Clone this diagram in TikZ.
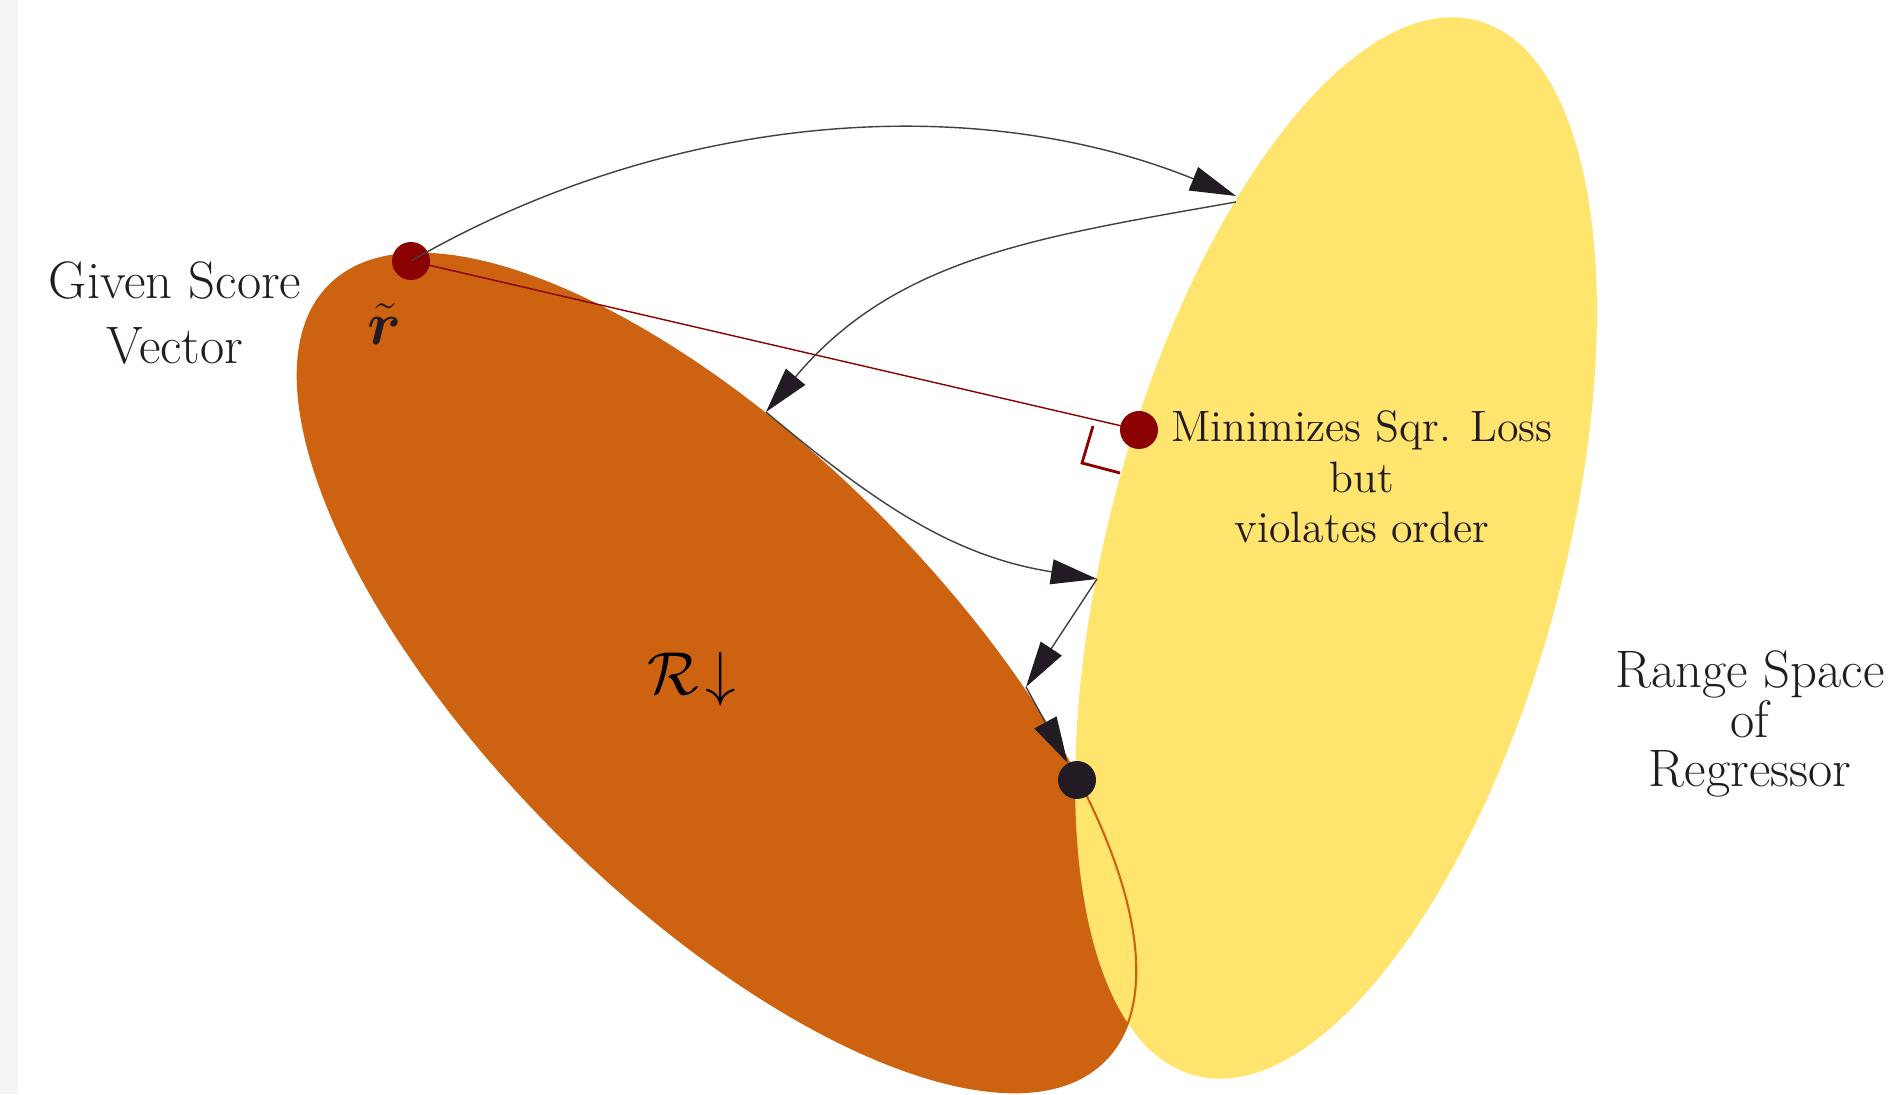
\documentclass[tikz,border=0pt]{standalone}
\usepackage{amsmath}
\usetikzlibrary{arrows.meta}
\definecolor{naranja}{RGB}{205,99,16}
\definecolor{amarillo}{RGB}{255,229,110}
\definecolor{rojo}{RGB}{139,0,0}
\definecolor{tinta}{RGB}{35,27,35}

\begin{document}
\begin{tikzpicture}[
    punto/.style={circle, inner sep=0pt, minimum size=3.8mm},
    flecha/.style={draw=black!75, thin, -{Triangle[length=4.6mm, width=2.5mm, color=tinta]}},
    etiqueta/.style={text=tinta, align=center},
    grande/.style={font=\fontsize{15}{18.5}\selectfont},
    mediana/.style={font=\fontsize{12.5}{14.3}\selectfont}]
    \useasboundingbox (0,0) rectangle (19,10.94);
    \fill[black!4] (0,0) rectangle (0.18,10.94);

    % Regiones
    \fill[naranja, rotate around={-45:(7.17,4.21)}] (7.17,4.21) ellipse [x radius=5.48, y radius=2.26];
    \fill[amarillo, rotate around={-15:(13.36,5.46)}] (13.36,5.46) ellipse [x radius=2.27, y radius=5.46];
    \draw[naranja, semithick, rotate around={-45:(7.17,4.21)}] (7.17,4.21) ellipse [x radius=5.48, y radius=2.26];

    % Puntos
    \node[punto, fill=rojo] (r) at (4.11,8.33) {};
    \node[punto, fill=rojo] (proy) at (11.39,6.64) {};
    \node[punto, fill=tinta] (sol) at (10.77,3.14) {};

    \coordinate (a) at (12.36,8.98);
    \coordinate (b) at (12.36,8.92);
    \coordinate (c) at (7.66,6.82);
    \coordinate (d) at (10.97,5.15);
    \coordinate (e) at (10.26,4.07);

    % Proyeccion
    \draw[rojo, thin] (r.center) -- (proy.center);
    \draw[rojo, thick] (10.93,6.68) -- (10.82,6.31) -- (11.20,6.21);

    % Flechas
    \draw[flecha] (r.center) to[out=30, in=158, looseness=0.9] (a);
    \draw[flecha] (b) to[out=190, in=50] (c);
    \draw[flecha] (c) to[out=-40, in=171] (d);
    \draw[flecha] (d) -- (e);
    \draw[flecha] (e) -- (sol);

    % Textos
    \node[etiqueta, grande] (dado) at (1.75,7.81) {Given Score\\Vector};
    \node[etiqueta, font=\LARGE] (rt) at (3.85,7.70) {$\tilde{\boldsymbol{r}}$};
    \node[etiqueta, mediana] (minim) at (13.62,6.17) {Minimizes Sqr. Loss\\but\\violates order};
    \node[text=black, font=\LARGE] (rset) at (6.92,4.15) {$\mathcal{R}\mkern-3mu\downarrow$};
    \node[etiqueta, grande] (rango) at (17.50,3.70) {Range Space\\[-4.5pt]of\\[-4.5pt]Regressor};
\end{tikzpicture}
\end{document}
